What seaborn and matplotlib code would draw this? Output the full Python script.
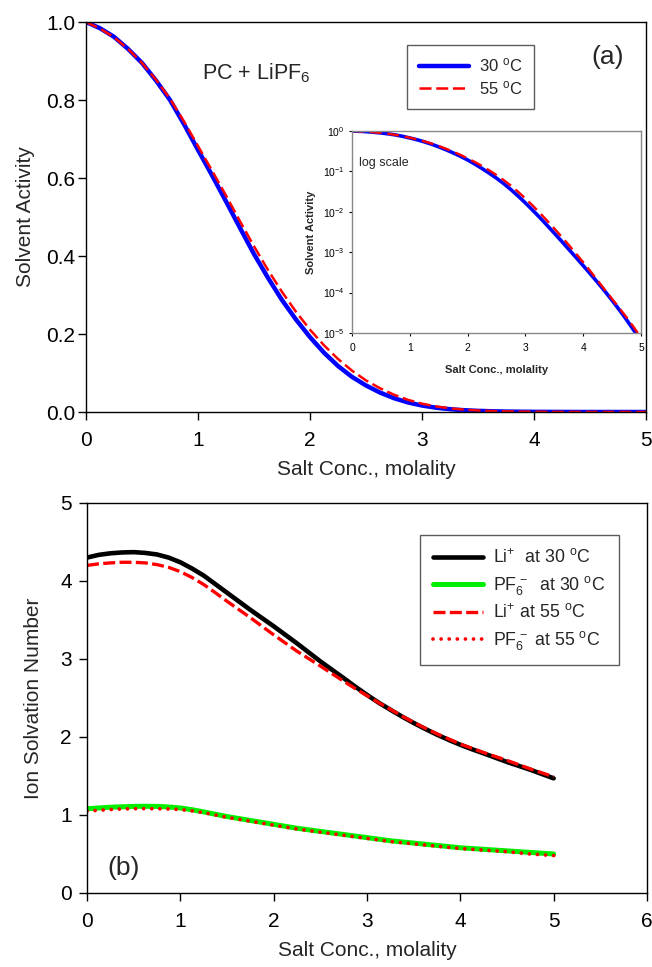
import numpy as np
import pandas as pd
import matplotlib
matplotlib.use("Agg")
import matplotlib.pyplot as plt
import seaborn as sns

# ---------------- data ----------------
molality = [0.0, 0.125, 0.25, 0.375, 0.5, 0.625, 0.75, 0.875, 1.0, 1.125, 1.25,
            1.375, 1.5, 1.625, 1.75, 1.875, 2.0, 2.125, 2.25, 2.375, 2.5, 2.625,
            2.75, 2.875, 3.0, 3.125, 3.25, 3.375, 3.5, 3.625, 3.75, 3.875, 4.0,
            4.125, 4.25, 4.375, 4.5, 4.625, 4.75, 4.875, 5.0]

activity_30 = [1.000, 0.984, 0.962, 0.931, 0.895, 0.850, 0.800, 0.738, 0.672,
               0.607, 0.540, 0.472, 0.405, 0.344, 0.287, 0.237, 0.192, 0.152,
               0.118, 0.090, 0.068, 0.0498, 0.0354, 0.0245, 0.01658, 0.0110,
               0.00719, 0.00464, 0.00296, 0.00188, 0.00118, 0.000744, 0.000465,
               0.000289, 0.000178, 0.000108, 6.42e-5, 3.74e-5, 2.13e-5, 1.17e-5,
               6.3e-6]
activity_55 = [1.000, 0.983, 0.961, 0.931, 0.895, 0.852, 0.803, 0.745, 0.682,
               0.619, 0.555, 0.489, 0.425, 0.364, 0.308, 0.257, 0.211, 0.171,
               0.136, 0.106, 0.081, 0.0609, 0.0443, 0.0312, 0.02135, 0.01434,
               0.00937, 0.00605, 0.00386, 0.00242, 0.00151, 0.000926, 0.000566,
               0.000339, 0.000199, 0.000117, 6.96e-5, 4.14e-5, 2.44e-5, 1.39e-5,
               7.7e-6]

li_30 = [4.30, 4.335, 4.355, 4.366, 4.37, 4.36, 4.34, 4.30, 4.24, 4.16, 4.07,
         3.96, 3.85, 3.74, 3.63, 3.525, 3.42, 3.31, 3.20, 3.085, 2.97, 2.862,
         2.755, 2.645, 2.54, 2.44, 2.35, 2.262, 2.18, 2.103, 2.03, 1.963, 1.90,
         1.843, 1.79, 1.735, 1.68, 1.63, 1.58, 1.525, 1.47]
li_55 = [4.20, 4.22, 4.232, 4.24, 4.24, 4.232, 4.21, 4.175, 4.12, 4.045, 3.955,
         3.85, 3.74, 3.635, 3.53, 3.42, 3.31, 3.205, 3.10, 3.005, 2.91, 2.812,
         2.715, 2.62, 2.53, 2.44, 2.355, 2.268, 2.187, 2.112, 2.04, 1.975, 1.91,
         1.855, 1.80, 1.75, 1.70, 1.645, 1.59, 1.54, 1.49]
pf6_30 = [1.08, 1.09, 1.10, 1.105, 1.11, 1.112, 1.11, 1.103, 1.09, 1.068, 1.04,
          1.01, 0.98, 0.955, 0.93, 0.905, 0.88, 0.855, 0.83, 0.81, 0.79, 0.77,
          0.75, 0.73, 0.71, 0.69, 0.67, 0.655, 0.64, 0.625, 0.61, 0.595, 0.58,
          0.57, 0.56, 0.55, 0.54, 0.53, 0.52, 0.51, 0.50]
pf6_55 = [1.05, 1.06, 1.07, 1.077, 1.08, 1.082, 1.08, 1.077, 1.07, 1.052, 1.03,
          1.00, 0.97, 0.945, 0.92, 0.895, 0.87, 0.845, 0.82, 0.80, 0.78, 0.76,
          0.74, 0.72, 0.70, 0.68, 0.66, 0.645, 0.63, 0.615, 0.60, 0.585, 0.57,
          0.56, 0.55, 0.54, 0.53, 0.515, 0.50, 0.49, 0.48]

top_yticks = [0.0, 0.2, 0.4, 0.6, 0.8, 1.0]
top_xticks = [0, 1, 2, 3, 4, 5]
inset_yticks = [1e-5, 1e-4, 1e-3, 1e-2, 1e-1, 1e0]
bot_xticks = [0, 1, 2, 3, 4, 5, 6]
bot_yticks = [0, 1, 2, 3, 4, 5]

df_a = pd.DataFrame({"m": molality, "a30": activity_30, "a55": activity_55})
df_b = pd.DataFrame({"m": molality, "li30": li_30, "li55": li_55,
                     "pf30": pf6_30, "pf55": pf6_55})

# ---------------- style ----------------
sns.set_theme(style="ticks")
plt.rcParams['font.family'] = ['Liberation Sans', 'DejaVu Sans']
plt.rcParams['mathtext.fontset'] = 'custom'
plt.rcParams['mathtext.rm'] = 'Liberation Sans'
plt.rcParams['mathtext.it'] = 'Liberation Sans'
plt.rcParams['mathtext.bf'] = 'Liberation Sans:bold'
plt.rcParams['axes.unicode_minus'] = False

fig = plt.figure(figsize=(6.52, 9.67), dpi=100)

W, H = 652, 967
def rect(l, t, r, b):
    return [l / W, 1 - b / H, (r - l) / W, (b - t) / H]

DEG = "$^{\\mathrm{o}}$C"

# ---------------- panel (a) ----------------
ax1 = fig.add_axes(rect(86, 22, 646, 412))
sns.lineplot(data=df_a, x="m", y="a30", ax=ax1, color="#0000ff", lw=3.2,
             label="30 " + DEG, sort=False)
sns.lineplot(data=df_a, x="m", y="a55", ax=ax1, color="#ff0000", lw=1.8,
             label="55 " + DEG, sort=False)
ax1.lines[1].set_dashes((4.8, 1.9))
ax1.set_xlim(0, 5)
ax1.set_ylim(0, 1)
ax1.set_xticks(top_xticks)
ax1.set_yticks(top_yticks)
ax1.set_yticklabels([f"{v:.1f}" for v in top_yticks])
ax1.tick_params(direction="out", length=6, width=1, labelsize=15, colors="black")
ax1.tick_params(axis="x", pad=8)
ax1.tick_params(axis="y", pad=1.5)
ax1.set_xlabel("Salt Conc., molality", fontsize=15, labelpad=7)
ax1.set_ylabel("Solvent Activity", fontsize=15, labelpad=8)
for s in ax1.spines.values():
    s.set_visible(True)
    s.set_color("black")
    s.set_linewidth(1.0)
leg1 = ax1.legend(loc="upper left",
                  bbox_to_anchor=((407 - 86) / 560, 1 - (45 - 22) / 390),
                  borderaxespad=0, fontsize=12, frameon=True, fancybox=False,
                  edgecolor="#333333", handlelength=3.0, handletextpad=0.6,
                  borderpad=0.7, labelspacing=0.25)
leg1.get_frame().set_linewidth(1.0)
ax1.text(1.04, 0.87, "PC + LiPF$_6$", fontsize=15.5, ha="left", va="center")
ax1.text(4.66, 0.91, "(a)", fontsize=19, ha="center", va="center")

# inset
axi = fig.add_axes(rect(352, 131, 641, 333))
sns.lineplot(data=df_a, x="m", y="a30", ax=axi, color="#0000ff", lw=2.6, sort=False)
sns.lineplot(data=df_a, x="m", y="a55", ax=axi, color="#ff0000", lw=1.7, sort=False)
axi.lines[1].set_dashes((5, 2.5))
axi.set_yscale("log")
axi.set_xlim(0, 5)
axi.set_ylim(1e-5, 1)
axi.set_xticks(top_xticks)
axi.set_yticks(inset_yticks)
axi.minorticks_off()
axi.tick_params(direction="out", length=2, width=0.8, labelsize=7.5, colors="black")
axi.tick_params(axis="x", pad=5)
for s in axi.spines.values():
    s.set_color("#888888")
    s.set_linewidth(1.0)
axi.set_xlabel("Salt Conc., molality", fontsize=8, fontweight="bold", labelpad=9)
axi.set_ylabel("Solvent Activity", fontsize=8, fontweight="bold", labelpad=5)
axi.text(0.025, 0.84, "log scale", fontsize=9, ha="left", va="center",
         transform=axi.transAxes)

# ---------------- panel (b) ----------------
ax2 = fig.add_axes(rect(87, 503, 647, 893))
sns.lineplot(data=df_b, x="m", y="li30", ax=ax2, color="black", lw=3.3,
             label="Li$^{+}$  at 30 " + DEG, sort=False)
sns.lineplot(data=df_b, x="m", y="pf30", ax=ax2, color="#00ee00", lw=3.6,
             label="PF$_6^{\\,-}$  at 30 " + DEG, sort=False)
sns.lineplot(data=df_b, x="m", y="li55", ax=ax2, color="#ff0000", lw=2.4,
             label="Li$^{+}$ at 55 " + DEG, sort=False)
sns.lineplot(data=df_b, x="m", y="pf55", ax=ax2, color="#ff0000", lw=2.7,
             label="PF$_6^{\\,-}$ at 55 " + DEG, sort=False)
ax2.lines[2].set_dashes((3.6, 1.3))
ax2.lines[3].set_dashes((0.01, 2.15))
ax2.lines[3].set_dash_capstyle("round")
ax2.set_xlim(0, 6)
ax2.set_ylim(0, 5)
ax2.set_xticks(bot_xticks)
ax2.set_yticks(bot_yticks)
ax2.tick_params(direction="out", length=6, width=1, labelsize=15, colors="black")
ax2.tick_params(axis="x", pad=8)
ax2.tick_params(axis="y", pad=5)
ax2.set_xlabel("Salt Conc., molality", fontsize=15, labelpad=7)
ax2.set_ylabel("Ion Solvation Number", fontsize=15, labelpad=12)
for s in ax2.spines.values():
    s.set_visible(True)
    s.set_color("black")
    s.set_linewidth(1.0)
leg2 = ax2.legend(loc="upper left",
                  bbox_to_anchor=((420 - 87) / 560, 1 - (535 - 503) / 390),
                  borderaxespad=0, fontsize=12.8, frameon=True, fancybox=False,
                  edgecolor="#333333", handlelength=2.8, handletextpad=0.55,
                  borderpad=0.75, labelspacing=0.38)
leg2.get_frame().set_linewidth(1.0)
ax2.text(0.39, 0.32, "(b)", fontsize=19, ha="center", va="center")

fig.savefig("out.png", dpi=100)
